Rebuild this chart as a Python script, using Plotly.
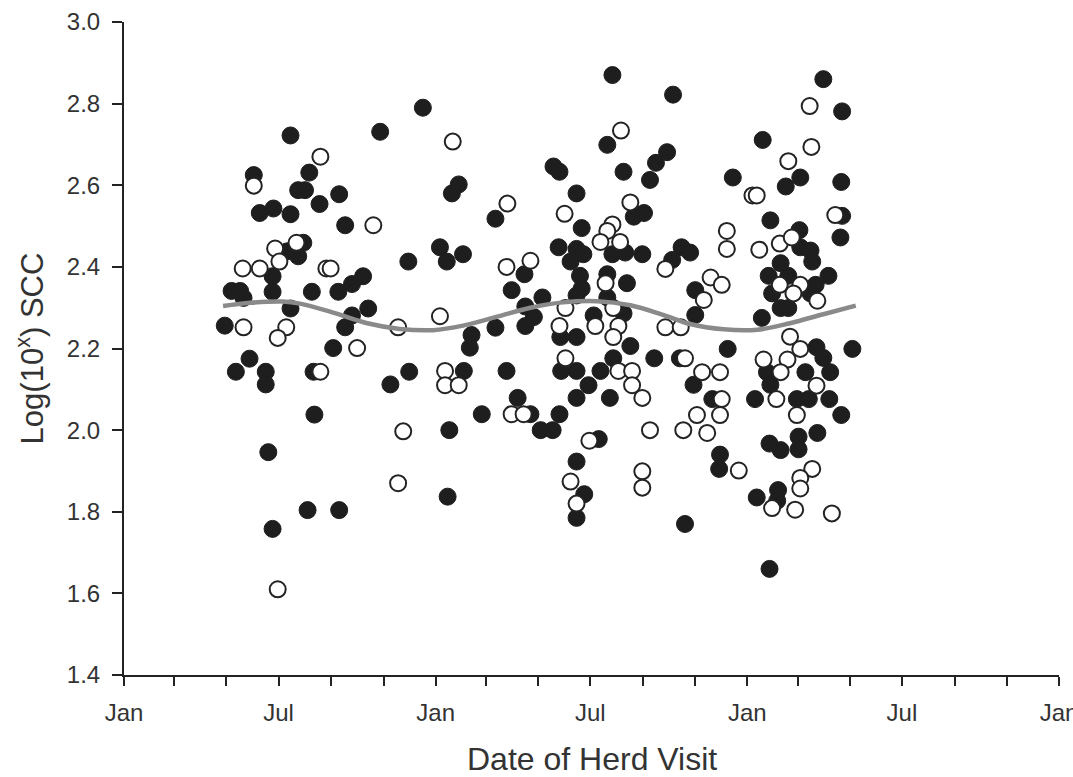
import plotly.graph_objects as go
import pandas as pd

# Study start: days are counted from 1 January of the first year shown
START = pd.Timestamp("2001-01-01")
END = pd.Timestamp("2004-01-01")

# Filled circles: (day of herd visit, log SCC)
filled_days = [
    350, 300, 195, 152, 217, 204, 212, 252, 229, 159, 175, 195, 259, 210, 191, 204, 174, 280, 267, 251,
    126, 136, 140, 174, 220, 195, 286, 267, 259, 118, 245, 147, 131, 166, 166, 222, 334, 312, 223, 169,
    215, 252, 174, 333,
    572, 643, 566, 636, 623, 616, 585, 503, 510, 392, 384, 530, 435, 597, 609, 536, 370, 378, 397, 509,
    530, 538, 523, 572, 587, 607, 653, 663, 642, 469, 454, 534, 536, 566, 589, 530, 566, 490, 470, 480,
    470, 435, 407, 405, 550, 585, 511, 530, 593, 621, 512, 530, 558, 544, 573, 651, 398, 448, 461, 476,
    419, 510, 530, 569, 381, 488, 502, 556, 530, 539, 530, 379, 657,
    819, 841, 748, 775, 792, 713, 840, 841, 757, 839, 791, 792, 804, 806, 769, 755, 778, 825, 810, 759,
    804, 769, 778, 747, 669, 669, 811, 819, 827, 853, 707, 753, 757, 798, 667, 689, 739, 788, 802, 826,
    840, 756, 769, 790, 790, 812, 698, 697, 741, 766, 765, 756,
]
filled_scc = [
    2.790, 2.731, 2.722, 2.625, 2.631, 2.588, 2.588, 2.578, 2.554, 2.532, 2.543, 2.529, 2.502, 2.459, 2.438, 2.426, 2.377, 2.377, 2.358, 2.339,
    2.341, 2.341, 2.324, 2.339, 2.339, 2.298, 2.298, 2.281, 2.252, 2.256, 2.201, 2.175, 2.143, 2.143, 2.112, 2.143, 2.143, 2.112, 2.038, 1.946,
    1.804, 1.804, 1.758, 2.413,
    2.870, 2.822, 2.699, 2.681, 2.655, 2.613, 2.633, 2.646, 2.633, 2.602, 2.580, 2.580, 2.518, 2.523, 2.532, 2.495, 2.448, 2.413, 2.431, 2.448,
    2.444, 2.431, 2.413, 2.431, 2.435, 2.431, 2.448, 2.435, 2.417, 2.382, 2.343, 2.378, 2.347, 2.382, 2.360, 2.330, 2.325, 2.325, 2.303, 2.277,
    2.255, 2.251, 2.233, 2.202, 2.281, 2.286, 2.228, 2.228, 2.206, 2.176, 2.145, 2.145, 2.145, 2.110, 2.176, 2.176, 2.145, 2.145, 2.079, 2.039,
    2.039, 2.039, 2.079, 2.079, 2.000, 2.000, 2.000, 1.978, 1.923, 1.843, 1.785, 1.837, 1.770,
    2.860, 2.781, 2.711, 2.597, 2.619, 2.619, 2.608, 2.525, 2.514, 2.472, 2.490, 2.448, 2.440, 2.413, 2.409, 2.378, 2.378, 2.378, 2.356, 2.335,
    2.335, 2.299, 2.299, 2.275, 2.343, 2.282, 2.203, 2.177, 2.142, 2.199, 2.199, 2.142, 2.111, 2.142, 2.111, 2.076, 2.076, 2.076, 2.076, 2.076,
    2.037, 1.967, 1.951, 1.984, 1.953, 1.993, 1.940, 1.905, 1.835, 1.853, 1.827, 1.660,
]

# Open circles: (day of herd visit, log SCC)
open_days = [
    230, 152, 292, 177, 202, 182, 139, 159, 237, 242, 140, 190, 180, 321, 273, 230, 327, 321, 180,
    385, 582, 449, 516, 593, 572, 566, 558, 581, 634, 448, 476, 564, 517, 573, 370, 552, 579, 510, 573, 634,
    652, 517, 579, 595, 595, 607, 657, 376, 376, 392, 454, 468, 616, 655, 545, 523, 530, 607, 607,
    803, 805, 778, 736, 741, 833, 706, 706, 744, 768, 782, 768, 792, 784, 812, 687, 700, 679, 780, 792,
    749, 777, 769, 811, 677, 698, 700, 698, 671, 683, 764, 788, 720, 806, 792, 792, 759, 786, 829,
]
open_scc = [
    2.670, 2.599, 2.502, 2.445, 2.459, 2.413, 2.396, 2.396, 2.396, 2.396, 2.252, 2.252, 2.226, 2.252, 2.201, 2.143, 1.997, 1.870, 1.610,
    2.707, 2.734, 2.555, 2.530, 2.558, 2.504, 2.488, 2.461, 2.461, 2.395, 2.400, 2.415, 2.360, 2.299, 2.299, 2.279, 2.255, 2.255, 2.255, 2.228, 2.252,
    2.252, 2.176, 2.145, 2.145, 2.110, 2.079, 2.176, 2.145, 2.110, 2.110, 2.039, 2.039, 2.000, 2.000, 1.974, 1.874, 1.820, 1.899, 1.859,
    2.794, 2.694, 2.659, 2.575, 2.575, 2.527, 2.488, 2.444, 2.442, 2.457, 2.472, 2.356, 2.356, 2.335, 2.317, 2.374, 2.356, 2.319, 2.229, 2.199,
    2.173, 2.173, 2.142, 2.109, 2.142, 2.142, 2.076, 2.037, 2.037, 1.993, 2.076, 2.037, 1.901, 1.905, 1.883, 1.857, 1.809, 1.805, 1.796,
]

# Grey fitted seasonal curve
curve_days = [116, 148, 186, 206, 245, 285, 323, 362, 397, 437, 476, 514, 554, 593, 632, 663, 702, 742, 780, 819, 857]
curve_scc = [2.304, 2.312, 2.315, 2.310, 2.288, 2.262, 2.248, 2.245, 2.256, 2.278, 2.300, 2.313, 2.316, 2.306, 2.282,
             2.260, 2.247, 2.246, 2.262, 2.284, 2.305]

# Axis ticks and titles
x_tick_labels = ["Jan", "", "", "Jul", "", "", "Jan", "", "", "Jul", "", "", "Jan", "", "", "Jul", "", "", "Jan"]
y_tick_values = [1.4, 1.6, 1.8, 2.0, 2.2, 2.4, 2.6, 2.8, 3.0]
x_title = "Date of Herd Visit"
y_title = "Log(10<sup>x</sup>) SCC"


def to_dates(days):
    return [START + pd.Timedelta(days=int(d)) for d in days]


x_tick_values = list(pd.date_range(START, END, freq="2MS"))

INK = "#232323"
TEXT = "#333333"
FONT = "Liberation Sans, Arial, sans-serif"

fig = go.Figure()
fig.add_trace(go.Scatter(
    x=to_dates(filled_days), y=filled_scc, mode="markers",
    marker=dict(size=17, color="#1e1e1e", line=dict(color="#1e1e1e", width=1)),
    hoverinfo="x+y", cliponaxis=False,
))
fig.add_trace(go.Scatter(
    x=to_dates(open_days), y=open_scc, mode="markers",
    marker=dict(size=16, color="white", line=dict(color=INK, width=2)),
    hoverinfo="x+y", cliponaxis=False,
))
fig.add_trace(go.Scatter(
    x=to_dates(curve_days), y=curve_scc, mode="lines",
    line=dict(color="#8a8a8a", width=4.5, shape="spline", smoothing=1.0),
    hoverinfo="skip",
))

fig.update_layout(
    width=1073, height=777,
    margin=dict(l=124, r=14, t=22, b=102, autoexpand=False),
    paper_bgcolor="white", plot_bgcolor="white",
    showlegend=False,
    font=dict(family=FONT, color=TEXT, size=24),
)
fig.update_xaxes(
    type="date", range=[START, END], automargin=False,
    tickmode="array", tickvals=x_tick_values, ticktext=x_tick_labels,
    ticks="outside", ticklen=9, tickwidth=2, tickcolor=INK,
    ticklabeloverflow="allow", ticklabelstandoff=6,
    showline=True, linewidth=2, linecolor=INK,
    showgrid=False, zeroline=False,
    tickfont=dict(size=24, color=TEXT),
)
fig.update_yaxes(
    range=[1.4, 3.0], automargin=False,
    tickmode="array", tickvals=y_tick_values, ticktext=[f"{v:.1f}" for v in y_tick_values],
    ticks="outside", ticklen=10, tickwidth=2, tickcolor=INK,
    ticklabeloverflow="allow", ticklabelstandoff=7,
    showline=True, linewidth=2, linecolor=INK,
    showgrid=False, zeroline=False,
    tickfont=dict(size=24, color=TEXT),
    title=dict(text=y_title, font=dict(size=31, color=TEXT), standoff=14),
)
# x-axis title placed as a paper annotation so it sits exactly under the axis
fig.add_annotation(
    text=x_title, xref="paper", yref="paper", x=0.5, y=-0.129,
    xanchor="center", yanchor="middle", showarrow=False,
    font=dict(size=32, color=TEXT, family=FONT),
)

fig.write_html(
    "out.html",
    config={"displayModeBar": False},
    post_script="document.body.style.margin='0';document.body.style.overflow='hidden';",
)
